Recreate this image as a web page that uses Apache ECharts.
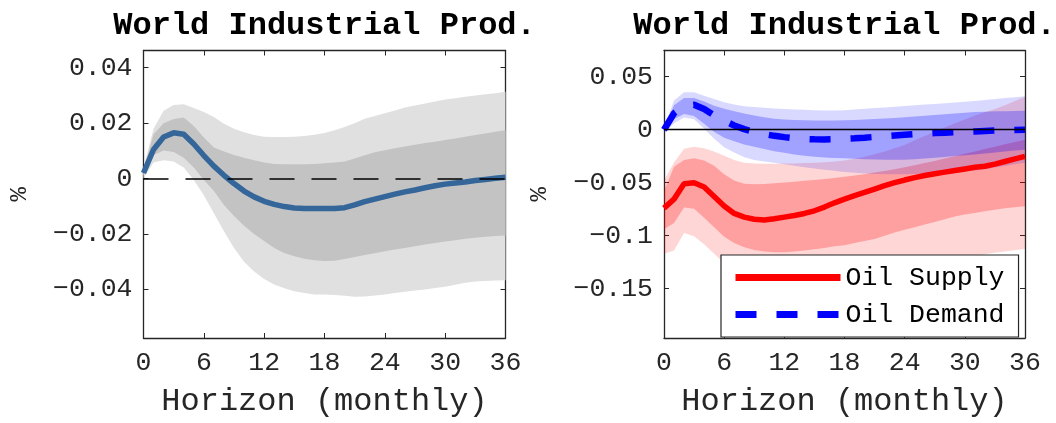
<!DOCTYPE html>
<html>
<head>
<meta charset="utf-8">
<script src="https://cdn.jsdelivr.net/npm/echarts@6/dist/echarts.min.js"></script>
<style>
  html, body { margin: 0; background: #fff; }
  #chart { width: 1056px; height: 423px; }
</style>
</head>
<body>
<div id="chart"></div>
<script>
// horizon in months
const horizon = [0, 1, 2, 3, 4, 5, 6, 7, 8, 9, 10, 11, 12, 13, 14, 15, 16, 17, 18,
  19, 20, 21, 22, 23, 24, 25, 26, 27, 28, 29, 30, 31, 32, 33, 34, 35, 36];
const xTickLabels = ['0', '6', '12', '18', '24', '30', '36'];
const leftYTicks = [-0.04, -0.02, 0, 0.02, 0.04];
const rightYTicks = [-0.15, -0.1, -0.05, 0, 0.05];

// left panel: response + 2 bands
const wipMedian = [0.0020, 0.0105, 0.0150, 0.0165, 0.0160, 0.0125, 0.0083, 0.0045, 0.0012, -0.0018,
  -0.0045, -0.0066, -0.0082, -0.0093, -0.0101, -0.0106, -0.0108, -0.0108, -0.0108, -0.0108,
  -0.0105, -0.0095, -0.0083, -0.0074, -0.0065, -0.0056, -0.0048, -0.0041, -0.0033, -0.0026,
  -0.0020, -0.0016, -0.0012, -0.0007, -0.0003, 0.0001, 0.0005];
const wipOuterHi = [0.0040, 0.0180, 0.0245, 0.0265, 0.0268, 0.0255, 0.0240, 0.0222, 0.0198, 0.0180,
  0.0167, 0.0157, 0.0151, 0.0150, 0.0150, 0.0151, 0.0154, 0.0158, 0.0164, 0.0174,
  0.0186, 0.0200, 0.0216, 0.0226, 0.0236, 0.0246, 0.0256, 0.0264, 0.0271, 0.0278,
  0.0285, 0.0290, 0.0295, 0.0300, 0.0304, 0.0308, 0.0313];
const wipOuterLo = [0.0000, 0.0058, 0.0066, 0.0062, 0.0040, -0.0005, -0.0060, -0.0125, -0.0190, -0.0250,
  -0.0300, -0.0335, -0.0362, -0.0382, -0.0396, -0.0406, -0.0413, -0.0418, -0.0418, -0.0420,
  -0.0423, -0.0426, -0.0425, -0.0422, -0.0418, -0.0413, -0.0408, -0.0404, -0.0400, -0.0395,
  -0.0390, -0.0383, -0.0376, -0.0371, -0.0369, -0.0368, -0.0367];
const wipInnerHi = [0.0030, 0.0160, 0.0200, 0.0215, 0.0220, 0.0190, 0.0148, 0.0112, 0.0098, 0.0085,
  0.0075, 0.0066, 0.0058, 0.0053, 0.0052, 0.0052, 0.0052, 0.0053, 0.0055, 0.0058,
  0.0062, 0.0072, 0.0084, 0.0095, 0.0102, 0.0109, 0.0116, 0.0122, 0.0128, 0.0133,
  0.0139, 0.0145, 0.0151, 0.0157, 0.0163, 0.0169, 0.0174];
const wipInnerLo = [0.0010, 0.0085, 0.0101, 0.0096, 0.0075, 0.0040, -0.0005, -0.0045, -0.0095, -0.0135,
  -0.0170, -0.0200, -0.0225, -0.0250, -0.0268, -0.0280, -0.0289, -0.0295, -0.0297, -0.0296,
  -0.0290, -0.0283, -0.0276, -0.0269, -0.0262, -0.0256, -0.0250, -0.0244, -0.0238, -0.0232,
  -0.0227, -0.0222, -0.0217, -0.0213, -0.0210, -0.0207, -0.0205];

// right panel: oil supply shock
const supplyMedian = [-0.0740, -0.0655, -0.0510, -0.0500, -0.0540, -0.0630, -0.0720, -0.0790, -0.0825, -0.0845,
  -0.0852, -0.0840, -0.0825, -0.0810, -0.0790, -0.0765, -0.0730, -0.0690, -0.0655, -0.0622,
  -0.0592, -0.0560, -0.0528, -0.0500, -0.0475, -0.0452, -0.0432, -0.0415, -0.0400, -0.0385,
  -0.0370, -0.0355, -0.0345, -0.0325, -0.0300, -0.0275, -0.0252];
const supplyOuterHi = [-0.0480, -0.0310, -0.0180, -0.0160, -0.0175, -0.0205, -0.0245, -0.0285, -0.0312, -0.0320,
  -0.0322, -0.0322, -0.0320, -0.0318, -0.0315, -0.0311, -0.0306, -0.0300, -0.0290, -0.0275,
  -0.0255, -0.0232, -0.0205, -0.0175, -0.0145, -0.0100, -0.0060, -0.0020, 0.0020, 0.0060,
  0.0095, 0.0135, 0.0165, 0.0195, 0.0230, 0.0270, 0.0310];
const supplyOuterLo = [-0.1170, -0.1140, -0.0975, -0.1005, -0.1080, -0.1170, -0.1260, -0.1320, -0.1360, -0.1380,
  -0.1390, -0.1395, -0.1395, -0.1390, -0.1385, -0.1378, -0.1370, -0.1360, -0.1350, -0.1338,
  -0.1325, -0.1312, -0.1300, -0.1288, -0.1275, -0.1262, -0.1250, -0.1238, -0.1225, -0.1212,
  -0.1200, -0.1188, -0.1175, -0.1162, -0.1150, -0.1138, -0.1125];
const supplyInnerHi = [-0.0580, -0.0350, -0.0285, -0.0270, -0.0290, -0.0340, -0.0420, -0.0480, -0.0510, -0.0515,
  -0.0512, -0.0505, -0.0498, -0.0490, -0.0482, -0.0474, -0.0465, -0.0455, -0.0445, -0.0432,
  -0.0420, -0.0405, -0.0390, -0.0372, -0.0355, -0.0335, -0.0315, -0.0295, -0.0272, -0.0250,
  -0.0228, -0.0205, -0.0182, -0.0160, -0.0138, -0.0115, -0.0095];
const supplyInnerLo = [-0.0940, -0.0880, -0.0735, -0.0745, -0.0830, -0.0920, -0.1010, -0.1070, -0.1110, -0.1135,
  -0.1150, -0.1155, -0.1155, -0.1150, -0.1140, -0.1128, -0.1115, -0.1100, -0.1090, -0.1070,
  -0.1050, -0.1030, -0.1000, -0.0970, -0.0945, -0.0920, -0.0895, -0.0870, -0.0845, -0.0820,
  -0.0800, -0.0785, -0.0770, -0.0755, -0.0742, -0.0732, -0.0722];

// right panel: oil demand shock
const demandMedian = [0.0000, 0.0155, 0.0225, 0.0235, 0.0195, 0.0135, 0.0085, 0.0040, 0.0005, -0.0022,
  -0.0042, -0.0058, -0.0070, -0.0080, -0.0087, -0.0091, -0.0092, -0.0090, -0.0086, -0.0081,
  -0.0075, -0.0068, -0.0061, -0.0054, -0.0048, -0.0042, -0.0037, -0.0032, -0.0028, -0.0024,
  -0.0020, -0.0016, -0.0012, -0.0008, -0.0005, -0.0002, 0.0000];
const demandOuterHi = [0.0020, 0.0275, 0.0352, 0.0352, 0.0320, 0.0290, 0.0260, 0.0238, 0.0221, 0.0213,
  0.0207, 0.0201, 0.0196, 0.0191, 0.0187, 0.0183, 0.0181, 0.0180, 0.0184, 0.0191,
  0.0197, 0.0204, 0.0210, 0.0216, 0.0223, 0.0230, 0.0237, 0.0243, 0.0250, 0.0256,
  0.0263, 0.0271, 0.0280, 0.0289, 0.0298, 0.0307, 0.0316];
const demandOuterLo = [-0.0035, 0.0060, 0.0115, 0.0098, 0.0010, -0.0085, -0.0165, -0.0215, -0.0260, -0.0285,
  -0.0300, -0.0312, -0.0325, -0.0340, -0.0354, -0.0366, -0.0377, -0.0388, -0.0398, -0.0407,
  -0.0414, -0.0419, -0.0421, -0.0421, -0.0421, -0.0418, -0.0414, -0.0409, -0.0404, -0.0399,
  -0.0393, -0.0385, -0.0372, -0.0357, -0.0342, -0.0327, -0.0313];
const demandInnerHi = [0.0010, 0.0230, 0.0300, 0.0300, 0.0265, 0.0225, 0.0198, 0.0175, 0.0152, 0.0135,
  0.0118, 0.0103, 0.0096, 0.0091, 0.0088, 0.0086, 0.0086, 0.0086, 0.0088, 0.0092,
  0.0096, 0.0101, 0.0106, 0.0111, 0.0117, 0.0124, 0.0131, 0.0138, 0.0145, 0.0152,
  0.0160, 0.0166, 0.0170, 0.0173, 0.0175, 0.0177, 0.0178];
const demandInnerLo = [-0.0010, 0.0100, 0.0148, 0.0130, 0.0055, -0.0020, -0.0075, -0.0110, -0.0140, -0.0162,
  -0.0183, -0.0203, -0.0218, -0.0233, -0.0247, -0.0256, -0.0262, -0.0266, -0.0270, -0.0274,
  -0.0278, -0.0281, -0.0283, -0.0284, -0.0283, -0.0278, -0.0272, -0.0265, -0.0257, -0.0248,
  -0.0240, -0.0233, -0.0224, -0.0215, -0.0205, -0.0197, -0.0190];

const FONT = 'Liberation Mono';
const INK = '#262626';
const categories = horizon.map(String);
// axis indices: 0/1 = left panel (bottom/top, left/right), 2/3 = right panel
const LEFT = 0, RIGHT = 2;

// shaded band = invisible lower line + stacked (hi - lo) area on top of it
function band(id, lo, hi, color, axis) {
  const base = {
    type: 'line', xAxisIndex: axis, yAxisIndex: axis, stack: id, stackStrategy: 'all',
    symbol: 'none', silent: true, lineStyle: { opacity: 0, width: 0 }
  };
  return [
    Object.assign({}, base, { data: lo }),
    Object.assign({}, base, { data: hi.map((v, i) => v - lo[i]), areaStyle: { color: color, opacity: 1 } })
  ];
}

function xAxes(gridIndex) {
  const common = {
    type: 'category', gridIndex: gridIndex, data: categories, boundaryGap: false,
    axisLine: { show: true, onZero: false, lineStyle: { color: INK, width: 1.3 } },
    axisTick: { show: true, inside: true, length: 5, lineStyle: { color: INK },
      interval: (i, v) => xTickLabels.includes(v) },
    splitLine: { show: false }
  };
  return [
    Object.assign({}, common, {
      position: 'bottom',
      axisLabel: { show: true, interval: (i, v) => xTickLabels.includes(v), margin: 11,
        fontFamily: FONT, fontSize: 26.5, color: INK },
      name: 'Horizon (monthly)', nameLocation: 'middle', nameGap: 48,
      nameTextStyle: { fontFamily: FONT, fontSize: 32, color: INK }
    }),
    Object.assign({}, common, { position: 'top', axisLabel: { show: false } })
  ];
}

function yAxes(gridIndex, min, max, ticks) {
  const common = {
    type: 'value', gridIndex: gridIndex, min: min, max: max,
    axisLine: { show: true, onZero: false, lineStyle: { color: INK, width: 1.3 } },
    axisTick: { show: true, inside: true, length: 5, lineStyle: { color: INK }, customValues: ticks },
    splitLine: { show: false }
  };
  return [
    Object.assign({}, common, {
      position: 'left',
      axisLabel: { show: true, customValues: ticks, margin: 11,
        formatter: v => String(Math.round(v * 1000) / 1000).replace('-', '\u2212'),
        fontFamily: FONT, fontSize: 26.5, color: INK },
      name: '%', nameLocation: 'middle', nameRotate: 90, nameGap: 112,
      nameTextStyle: { fontFamily: FONT, fontSize: 24, color: INK }
    }),
    Object.assign({}, common, { position: 'right', axisLabel: { show: false } })
  ];
}

const titleStyle = { fontFamily: FONT, fontWeight: 'bold', fontSize: 32, color: '#000', lineHeight: 32 };

const chart = echarts.init(document.getElementById('chart'), null, { renderer: 'canvas' });
chart.setOption({
  animation: false,
  backgroundColor: '#fff',
  title: [
    { text: 'World Industrial Prod.', left: 324.5, top: 10, textAlign: 'center', padding: 0, textStyle: titleStyle },
    { text: 'World Industrial Prod.', left: 844.5, top: 10, textAlign: 'center', padding: 0, textStyle: titleStyle }
  ],
  grid: [
    { left: 143.5, top: 50.5, width: 362, height: 294.5 },
    { left: 664, top: 50.5, width: 361, height: 294.5 }
  ],
  xAxis: [].concat(xAxes(0), xAxes(1)),
  yAxis: [].concat(yAxes(0, -0.0575, 0.0462, leftYTicks), yAxes(1, -0.1965, 0.0747, rightYTicks)),
  legend: {
    data: ['Oil Supply', 'Oil Demand'],
    orient: 'vertical', left: 721, top: 255,
    padding: [9, 14, 9, 11], itemGap: 10, itemWidth: 105, itemHeight: 7,
    backgroundColor: '#fff', borderColor: INK, borderWidth: 1.2,
    lineStyle: { width: 7 },
    textStyle: { fontFamily: FONT, fontSize: 26.5, lineHeight: 26, color: '#000' },
    selectedMode: false
  },
  series: [].concat(
    band('wipOuter', wipOuterLo, wipOuterHi, '#e0e0e0', LEFT),
    band('wipInner', wipInnerLo, wipInnerHi, '#c3c3c3', LEFT),
    [{
      type: 'line', xAxisIndex: LEFT, yAxisIndex: LEFT, data: wipMedian, symbol: 'none',
      lineStyle: { color: '#34669a', width: 5.5 },
      markLine: { silent: true, symbol: 'none', label: { show: false },
        lineStyle: { color: '#000', width: 1.6, type: [25, 17] }, data: [{ yAxis: 0 }] }
    }],
    band('supOuter', supplyOuterLo, supplyOuterHi, 'rgba(255,0,0,0.16)', RIGHT),
    band('supInner', supplyInnerLo, supplyInnerHi, 'rgba(255,0,0,0.25)', RIGHT),
    band('demOuter', demandOuterLo, demandOuterHi, 'rgba(0,0,255,0.15)', RIGHT),
    band('demInner', demandInnerLo, demandInnerHi, 'rgba(0,0,255,0.26)', RIGHT),
    [{
      name: 'Oil Supply', type: 'line', xAxisIndex: RIGHT, yAxisIndex: RIGHT, data: supplyMedian, symbol: 'none',
      lineStyle: { color: '#ff0000', width: 5.5 }, itemStyle: { color: '#ff0000' },
      markLine: { silent: true, symbol: 'none', label: { show: false },
        lineStyle: { color: '#000', width: 1.4, type: 'solid' }, data: [{ yAxis: 0 }] }
    }, {
      name: 'Oil Demand', type: 'line', xAxisIndex: RIGHT, yAxisIndex: RIGHT, data: demandMedian, symbol: 'none',
      lineStyle: { color: '#0000ff', width: 6.5, type: [21, 20] }, itemStyle: { color: '#0000ff' }
    }]
  )
});
</script>
</body>
</html>
